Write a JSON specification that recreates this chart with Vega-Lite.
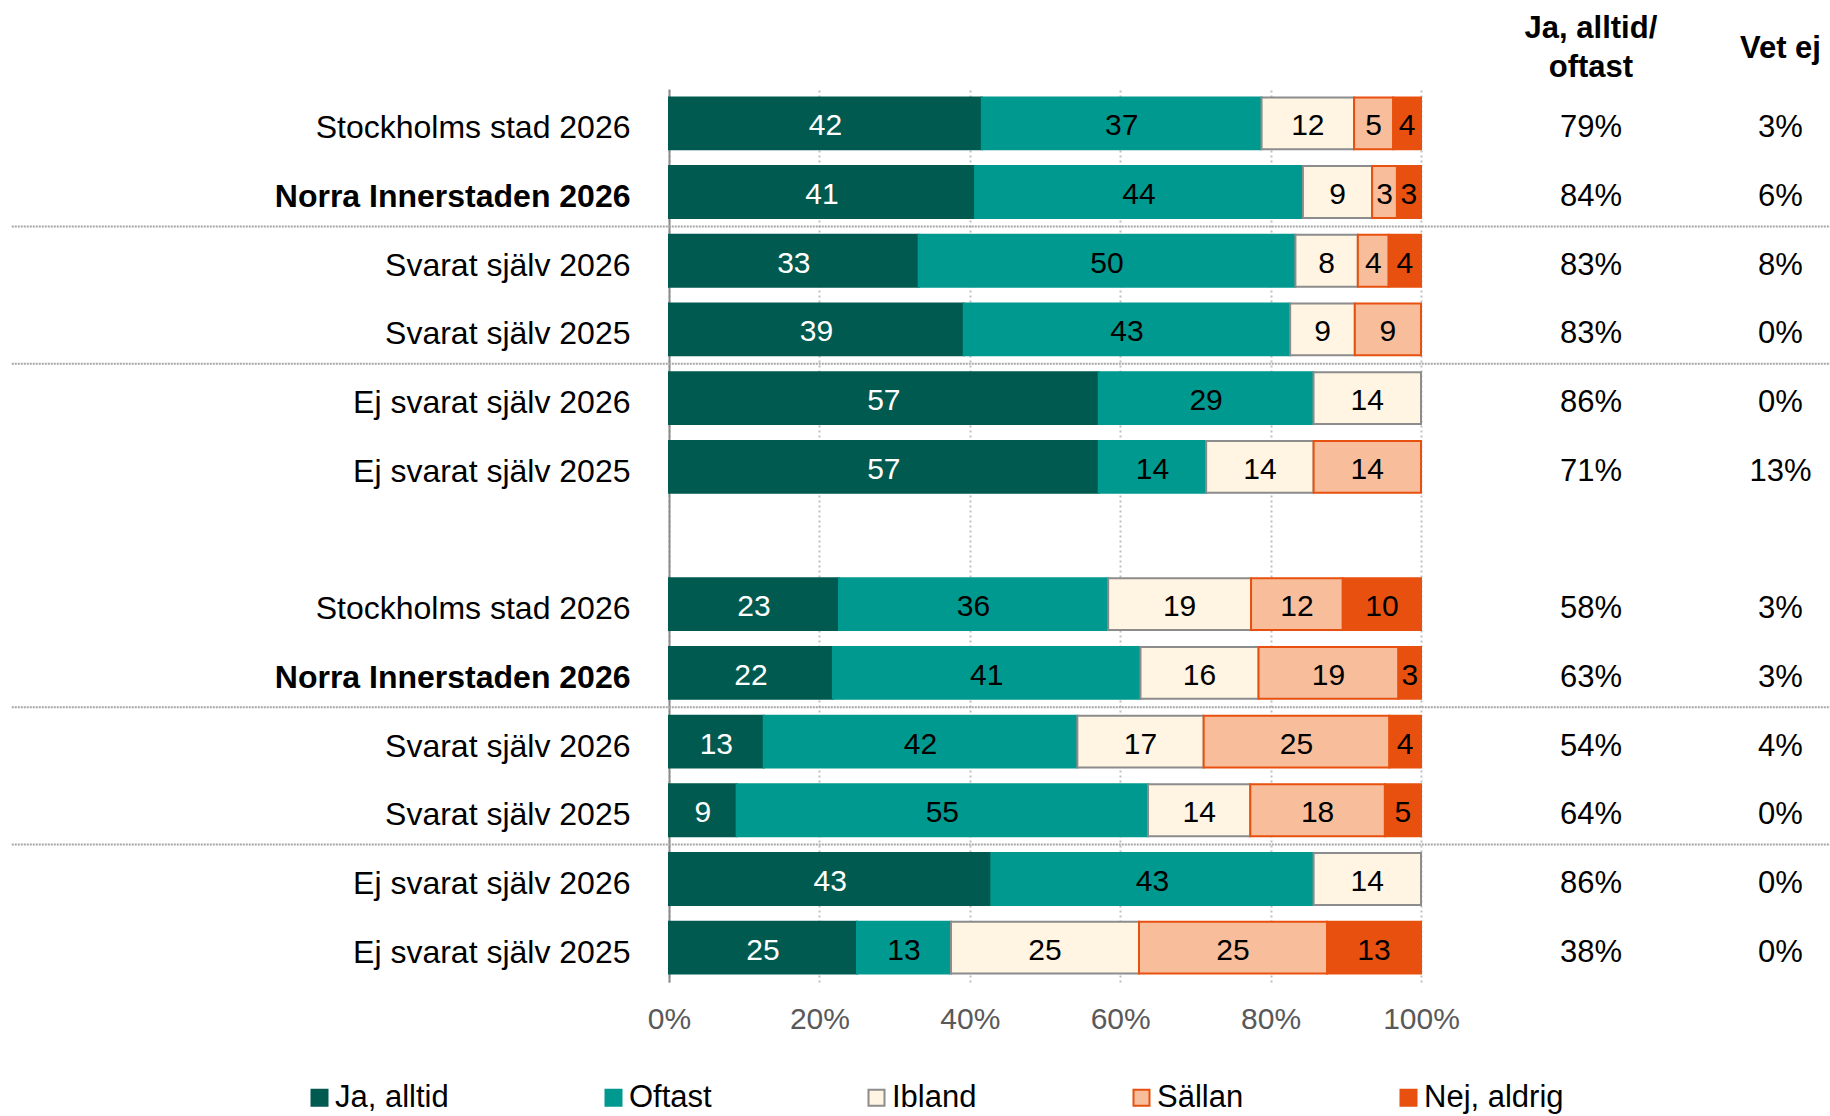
{
  "$schema": "https://vega.github.io/schema/vega-lite/v6.json",
  "autosize": {"type": "none"},
  "padding": {"left": 669, "top": 89, "right": 409, "bottom": 134},
  "width": 752,
  "height": 893,
  "config": {"view": {"stroke": null}, "font": "Liberation Sans", "text": {"font": "Liberation Sans"}},
  "datasets": {
    "seg": [
      {"row": "01|Stockholms stad 2026", "cat": "Ja, alltid", "k": 1, "v": 41.6},
      {"row": "01|Stockholms stad 2026", "cat": "Oftast", "k": 2, "v": 37.2},
      {"row": "01|Stockholms stad 2026", "cat": "Ibland", "k": 3, "v": 12.3},
      {"row": "01|Stockholms stad 2026", "cat": "Sällan", "k": 4, "v": 5.2},
      {"row": "01|Stockholms stad 2026", "cat": "Nej, aldrig", "k": 5, "v": 3.7},
      {"row": "02|Norra Innerstaden 2026", "cat": "Ja, alltid", "k": 1, "v": 40.7},
      {"row": "02|Norra Innerstaden 2026", "cat": "Oftast", "k": 2, "v": 43.6},
      {"row": "02|Norra Innerstaden 2026", "cat": "Ibland", "k": 3, "v": 9.2},
      {"row": "02|Norra Innerstaden 2026", "cat": "Sällan", "k": 4, "v": 3.3},
      {"row": "02|Norra Innerstaden 2026", "cat": "Nej, aldrig", "k": 5, "v": 3.2},
      {"row": "03|Svarat själv 2026", "cat": "Ja, alltid", "k": 1, "v": 33.2},
      {"row": "03|Svarat själv 2026", "cat": "Oftast", "k": 2, "v": 50.1},
      {"row": "03|Svarat själv 2026", "cat": "Ibland", "k": 3, "v": 8.3},
      {"row": "03|Svarat själv 2026", "cat": "Sällan", "k": 4, "v": 4.1},
      {"row": "03|Svarat själv 2026", "cat": "Nej, aldrig", "k": 5, "v": 4.3},
      {"row": "04|Svarat själv 2025", "cat": "Ja, alltid", "k": 1, "v": 39.2},
      {"row": "04|Svarat själv 2025", "cat": "Oftast", "k": 2, "v": 43.4},
      {"row": "04|Svarat själv 2025", "cat": "Ibland", "k": 3, "v": 8.6},
      {"row": "04|Svarat själv 2025", "cat": "Sällan", "k": 4, "v": 8.8},
      {"row": "05|Ej svarat själv 2026", "cat": "Ja, alltid", "k": 1, "v": 57.14},
      {"row": "05|Ej svarat själv 2026", "cat": "Oftast", "k": 2, "v": 28.57},
      {"row": "05|Ej svarat själv 2026", "cat": "Ibland", "k": 3, "v": 14.29},
      {"row": "06|Ej svarat själv 2025", "cat": "Ja, alltid", "k": 1, "v": 57.14},
      {"row": "06|Ej svarat själv 2025", "cat": "Oftast", "k": 2, "v": 14.29},
      {"row": "06|Ej svarat själv 2025", "cat": "Ibland", "k": 3, "v": 14.29},
      {"row": "06|Ej svarat själv 2025", "cat": "Sällan", "k": 4, "v": 14.28},
      {"row": "08|Stockholms stad 2026", "cat": "Ja, alltid", "k": 1, "v": 22.6},
      {"row": "08|Stockholms stad 2026", "cat": "Oftast", "k": 2, "v": 35.8},
      {"row": "08|Stockholms stad 2026", "cat": "Ibland", "k": 3, "v": 19.0},
      {"row": "08|Stockholms stad 2026", "cat": "Sällan", "k": 4, "v": 12.2},
      {"row": "08|Stockholms stad 2026", "cat": "Nej, aldrig", "k": 5, "v": 10.4},
      {"row": "09|Norra Innerstaden 2026", "cat": "Ja, alltid", "k": 1, "v": 21.8},
      {"row": "09|Norra Innerstaden 2026", "cat": "Oftast", "k": 2, "v": 40.9},
      {"row": "09|Norra Innerstaden 2026", "cat": "Ibland", "k": 3, "v": 15.7},
      {"row": "09|Norra Innerstaden 2026", "cat": "Sällan", "k": 4, "v": 18.6},
      {"row": "09|Norra Innerstaden 2026", "cat": "Nej, aldrig", "k": 5, "v": 3.0},
      {"row": "10|Svarat själv 2026", "cat": "Ja, alltid", "k": 1, "v": 12.6},
      {"row": "10|Svarat själv 2026", "cat": "Oftast", "k": 2, "v": 41.7},
      {"row": "10|Svarat själv 2026", "cat": "Ibland", "k": 3, "v": 16.8},
      {"row": "10|Svarat själv 2026", "cat": "Sällan", "k": 4, "v": 24.7},
      {"row": "10|Svarat själv 2026", "cat": "Nej, aldrig", "k": 5, "v": 4.2},
      {"row": "11|Svarat själv 2025", "cat": "Ja, alltid", "k": 1, "v": 9.0},
      {"row": "11|Svarat själv 2025", "cat": "Oftast", "k": 2, "v": 54.7},
      {"row": "11|Svarat själv 2025", "cat": "Ibland", "k": 3, "v": 13.6},
      {"row": "11|Svarat själv 2025", "cat": "Sällan", "k": 4, "v": 17.9},
      {"row": "11|Svarat själv 2025", "cat": "Nej, aldrig", "k": 5, "v": 4.8},
      {"row": "12|Ej svarat själv 2026", "cat": "Ja, alltid", "k": 1, "v": 42.86},
      {"row": "12|Ej svarat själv 2026", "cat": "Oftast", "k": 2, "v": 42.86},
      {"row": "12|Ej svarat själv 2026", "cat": "Ibland", "k": 3, "v": 14.28},
      {"row": "13|Ej svarat själv 2025", "cat": "Ja, alltid", "k": 1, "v": 25},
      {"row": "13|Ej svarat själv 2025", "cat": "Oftast", "k": 2, "v": 12.5},
      {"row": "13|Ej svarat själv 2025", "cat": "Ibland", "k": 3, "v": 25},
      {"row": "13|Ej svarat själv 2025", "cat": "Sällan", "k": 4, "v": 25},
      {"row": "13|Ej svarat själv 2025", "cat": "Nej, aldrig", "k": 5, "v": 12.5}
    ],
    "tab": [
      {"row": "01|Stockholms stad 2026", "ja": "79%", "vet": "3%"},
      {"row": "02|Norra Innerstaden 2026", "ja": "84%", "vet": "6%"},
      {"row": "03|Svarat själv 2026", "ja": "83%", "vet": "8%"},
      {"row": "04|Svarat själv 2025", "ja": "83%", "vet": "0%"},
      {"row": "05|Ej svarat själv 2026", "ja": "86%", "vet": "0%"},
      {"row": "06|Ej svarat själv 2025", "ja": "71%", "vet": "13%"},
      {"row": "08|Stockholms stad 2026", "ja": "58%", "vet": "3%"},
      {"row": "09|Norra Innerstaden 2026", "ja": "63%", "vet": "3%"},
      {"row": "10|Svarat själv 2026", "ja": "54%", "vet": "4%"},
      {"row": "11|Svarat själv 2025", "ja": "64%", "vet": "0%"},
      {"row": "12|Ej svarat själv 2026", "ja": "86%", "vet": "0%"},
      {"row": "13|Ej svarat själv 2025", "ja": "38%", "vet": "0%"}
    ],
    "sep": [
      {"row": "03|Svarat själv 2026"},
      {"row": "05|Ej svarat själv 2026"},
      {"row": "10|Svarat själv 2026"},
      {"row": "12|Ej svarat själv 2026"}
    ]
  },
  "layer": [
    {
      "data": {"name": "seg"},
      "mark": {"type": "bar", "strokeWidth": 2, "height": {"band": 0.755}},
      "encoding": {
        "y": {
          "field": "row", "type": "nominal",
          "scale": {"type": "band", "paddingInner": 0, "paddingOuter": 0,
            "domain": ["01|Stockholms stad 2026", "02|Norra Innerstaden 2026", "03|Svarat själv 2026", "04|Svarat själv 2025", "05|Ej svarat själv 2026", "06|Ej svarat själv 2025", "07|", "08|Stockholms stad 2026", "09|Norra Innerstaden 2026", "10|Svarat själv 2026", "11|Svarat själv 2025", "12|Ej svarat själv 2026", "13|Ej svarat själv 2025"]},
          "axis": {
            "title": null, "ticks": false, "domainColor": "#8C8C8C", "domainWidth": 2,
            "labelExpr": "split(datum.value, '|')[1]",
            "labelFont": "Liberation Sans", "labelFontSize": 32, "labelColor": "#000000",
            "labelPadding": 39, "labelLimit": 600, "labelOffset": 5,
            "labelFontWeight": {"condition": {"test": "indexof(datum.value, 'Norra') >= 0", "value": "bold"}, "value": "normal"}
          }
        },
        "x": {
          "field": "v", "type": "quantitative", "stack": "zero",
          "scale": {"domain": [0, 100], "nice": false},
          "axis": {
            "title": null, "values": [0, 20, 40, 60, 80, 100], "domain": false, "ticks": false,
            "grid": true, "gridDash": [2, 3], "gridColor": "#BFBFBF", "gridWidth": 2,
            "labelExpr": "datum.value + '%'", "labelFont": "Liberation Sans", "labelFontSize": 30,
            "labelColor": "#595959", "labelPadding": 22, "labelFlush": false, "labelOverlap": false
          }
        },
        "color": {
          "field": "cat", "type": "nominal",
          "scale": {"domain": ["Ja, alltid", "Oftast", "Ibland", "Sällan", "Nej, aldrig"],
                    "range": ["#005A4F", "#00998F", "#FFF5E2", "#F8BE9C", "#E8500F"]},
          "legend": {"title": null, "orient": "none", "legendX": -365, "legendY": 993, "direction": "horizontal",
            "symbolType": "square", "symbolSize": 256, "symbolStrokeWidth": 2, "labelFont": "Liberation Sans",
            "labelFontSize": 31, "labelColor": "#000000", "columnPadding": 149, "labelOffset": 0}
        },
        "stroke": {
          "field": "cat", "type": "nominal",
          "scale": {"domain": ["Ja, alltid", "Oftast", "Ibland", "Sällan", "Nej, aldrig"],
                    "range": ["#005A4F", "#00998F", "#8C8C8C", "#E8500F", "#E8500F"]},
          "legend": {"title": null, "orient": "none", "legendX": -365, "legendY": 993, "direction": "horizontal",
            "symbolType": "square", "symbolSize": 256, "symbolStrokeWidth": 2, "labelFont": "Liberation Sans",
            "labelFontSize": 31, "labelColor": "#000000", "columnPadding": 149, "labelOffset": 0}
        },
        "order": {"field": "k", "type": "quantitative"}
      }
    },
    {
      "data": {"name": "seg"},
      "mark": {"type": "text", "fontSize": 30, "font": "Liberation Sans", "baseline": "middle", "align": "center", "dy": 3},
      "encoding": {
        "y": {"field": "row", "type": "nominal"},
        "x": {"field": "v", "type": "quantitative", "stack": "zero", "bandPosition": 0.5, "scale": {"domain": [0, 100], "nice": false}},
        "detail": {"field": "cat", "type": "nominal"},
        "order": {"field": "k", "type": "quantitative"},
        "text": {"field": "v", "type": "quantitative", "format": ".0f"},
        "color": {"condition": {"test": "datum.cat === 'Ja, alltid'", "value": "#FFFFFF"}, "value": "#000000"}
      }
    },
    {
      "data": {"name": "tab"},
      "mark": {"type": "text", "fontSize": 31, "font": "Liberation Sans", "baseline": "middle", "align": "center", "color": "#000000", "dy": 5},
      "encoding": {
        "y": {"field": "row", "type": "nominal"},
        "x": {"datum": 122.6, "type": "quantitative", "scale": {"domain": [0, 100], "nice": false}},
        "text": {"field": "ja", "type": "nominal"}
      }
    },
    {
      "data": {"name": "tab"},
      "mark": {"type": "text", "fontSize": 31, "font": "Liberation Sans", "baseline": "middle", "align": "center", "color": "#000000", "dy": 5},
      "encoding": {
        "y": {"field": "row", "type": "nominal"},
        "x": {"datum": 147.8, "type": "quantitative", "scale": {"domain": [0, 100], "nice": false}},
        "text": {"field": "vet", "type": "nominal"}
      }
    },
    {
      "data": {"name": "sep"},
      "mark": {"type": "rule", "stroke": "#A6A6A6", "strokeWidth": 2, "strokeDash": [2, 1]},
      "encoding": {
        "y": {"field": "row", "type": "nominal", "bandPosition": 0},
        "x": {"datum": -87.4, "type": "quantitative", "scale": {"domain": [0, 100], "nice": false}},
        "x2": {"datum": 154.4}
      }
    },
    {
      "data": {"values": [{"h": "Ja, alltid/"}]},
      "mark": {"type": "text", "fontSize": 31, "font": "Liberation Sans", "fontWeight": "bold", "baseline": "middle", "align": "center", "dy": -60, "color": "#000000"},
      "encoding": {
        "y": {"datum": "01|Stockholms stad 2026", "type": "nominal", "bandPosition": 0},
        "x": {"datum": 122.6, "type": "quantitative", "scale": {"domain": [0, 100], "nice": false}},
        "text": {"field": "h", "type": "nominal"}
      }
    },
    {
      "data": {"values": [{"h": "oftast"}]},
      "mark": {"type": "text", "fontSize": 31, "font": "Liberation Sans", "fontWeight": "bold", "baseline": "middle", "align": "center", "dy": -21, "color": "#000000"},
      "encoding": {
        "y": {"datum": "01|Stockholms stad 2026", "type": "nominal", "bandPosition": 0},
        "x": {"datum": 122.6, "type": "quantitative", "scale": {"domain": [0, 100], "nice": false}},
        "text": {"field": "h", "type": "nominal"}
      }
    },
    {
      "data": {"values": [{"h": "Vet ej"}]},
      "mark": {"type": "text", "fontSize": 31, "font": "Liberation Sans", "fontWeight": "bold", "baseline": "middle", "align": "center", "dy": -40, "color": "#000000"},
      "encoding": {
        "y": {"datum": "01|Stockholms stad 2026", "type": "nominal", "bandPosition": 0},
        "x": {"datum": 147.8, "type": "quantitative", "scale": {"domain": [0, 100], "nice": false}},
        "text": {"field": "h", "type": "nominal"}
      }
    }
  ]
}
